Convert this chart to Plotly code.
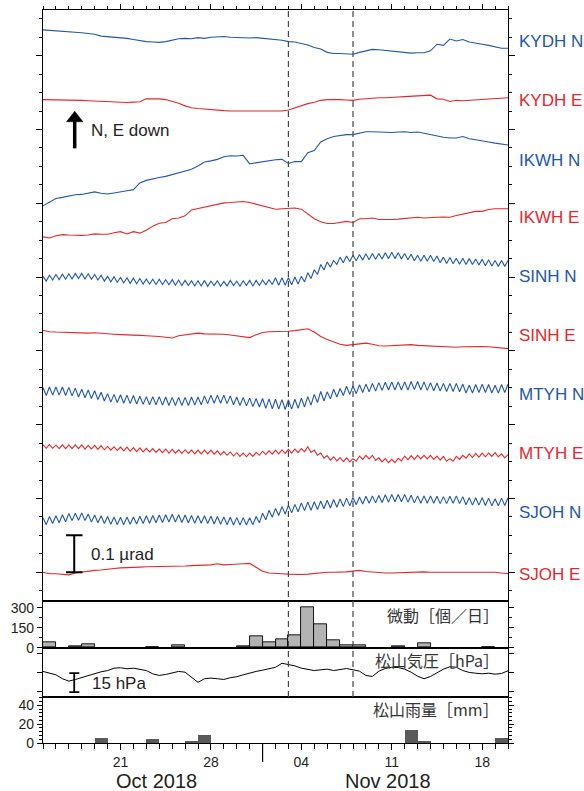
import numpy as np
import pandas as pd
import plotly.graph_objects as go

# ---------------- data ----------------
t_half = pd.date_range('2018-10-15', '2018-11-20', freq='12h')      # 73 samples
t_quarter = pd.date_range('2018-10-15', '2018-11-20', freq='6h')    # 145 samples

station_labels = ["KYDH N", "KYDH E", "IKWH N", "IKWH E", "SINH N",
                  "SINH E", "MTYH N", "MTYH E", "SJOH N", "SJOH E"]

# tilt change, nrad (N / E down)
kydh_n = [0, -1, -2, -3, -5, -5, -8, -10, -12, -17, -18, -19, -21, -23, -26, -30, -32, -33, -34, -32,
          -28, -24, -23, -24, -21, -23, -20, -18, -18, -20, -21, -23, -22, -21, -23, -25, -25, -28, -32, -33,
          -37, -41, -48, -52, -61, -64, -64, -65, -66, -61, -57, -53, -54, -56, -57, -60, -62, -63, -62, -62,
          -57, -39, -42, -25, -30, -26, -33, -35, -39, -42, -46, -50, -50]
kydh_e = [0, 0, -1, -1, -2, -2, -2, -3, -4, -5, -5, -6, -7, -8,
          -7, -6, 2, 3, 2, 0, -4, -10, -17, -22, -24, -26, -28, -29, -30, -31, -31, -31, -31, -31,
          -31, -31, -32, -31, -28, -22, -17, -11, -7, -2, 0, 1, 0, -1, -2, 1, 3, 4, 5, 5,
          5, 7, 8, 9, 10, 11, 12, 2, 1, -5, -2, -3, -2, -1, 1, 2, 3, 4, 5]
ikwh_n = [0, 11, 20, 23, 27, 30, 31, 35, 38, 34, 32, 35, 39, 41, 44, 62, 69, 74, 77, 80,
          85, 88, 93, 99, 108, 119, 122, 126, 133, 136, 135, 137, 114, 117, 119, 122, 125, 126, 115, 120,
          120, 144, 150, 173, 182, 188, 191, 193, 193, 197, 201, 201, 200, 201, 199, 200, 201, 199, 200, 197,
          193, 190, 186, 184, 184, 188, 182, 179, 175, 173, 170, 167, 165]
ikwh_e = [0, -3, 3, 6, 5, 4, 4, 5, 8, 7, 7, 11, 14, 8, 14, 10, 18, 29, 37, 39,
          49, 51, 57, 73, 77, 79, 85, 88, 92, 93, 95, 96, 93, 88, 85, 79, 75, 76, 78, 78,
          75, 63, 49, 41, 36, 36, 39, 42, 39, 49, 49, 51, 47, 46, 47, 48, 50, 52, 53, 51,
          51, 53, 54, 53, 58, 62, 66, 69, 69, 74, 76, 76, 76]
sinh_n = [7, -6, 10, -3, 12, -2, 13, -1, 14, 0, 15, 1, 15, 0, 14, -1, 12, -3, 10, -6,
          7, -8, 6, -9, 4, -11, 3, -12, 2, -13, 1, -14, 0, -14, -1, -15, -1, -15, -2, -16,
          -2, -17, -3, -18, -4, -18, -5, -19, -5, -19, -4, -20, -6, -18, -5, -20, -7, -19, -4, -18,
          -6, -20, -5, -18, -4, -19, -4, -18, -3, -16, -2, -15, 3, -17, 3, -17, 3, -16, 5, -14,
          7, -8, 17, 1, 25, 12, 39, 24, 46, 32, 50, 39, 59, 44, 62, 47, 64, 49, 66, 51,
          68, 52, 69, 53, 69, 54, 71, 55, 72, 55, 71, 54, 69, 52, 67, 49, 64, 48, 64, 48,
          64, 47, 62, 44, 59, 42, 58, 41, 56, 40, 56, 39, 55, 39, 54, 38, 53, 36, 52, 35,
          50, 34, 50, 34, 50]
sinh_e = [0, -4, -5, -6, -6, -6, -8, -8, -7, -9, -10, -11, -12, -12, -13, -14, -15, -15, -17, -19,
          -21, -15, -12, -9, -8, -10, -10, -9, -11, -13, -15, -17, -20, -12, -6, -4, -4, -5, -3, -1,
          1, 4, -5, -17, -25, -31, -38, -41, -39, -37, -35, -38, -42, -43, -42, -41, -40, -39, -41, -42,
          -42, -43, -44, -45, -46, -45, -44, -43, -44, -45, -47, -48, -50]
mtyh_n = [11, -11, 12, -10, 12, -10, 12, -11, 11, -12, 9, -15, 6, -17, 4, -19, 2, -22, -2, -26,
          -6, -29, -8, -30, -9, -32, -10, -33, -11, -34, -13, -35, -14, -36, -14, -36, -14, -37, -15, -38,
          -16, -38, -16, -38, -16, -38, -15, -37, -15, -36, -12, -33, -10, -32, -10, -32, -10, -33, -12, -36,
          -15, -38, -16, -39, -18, -41, -19, -42, -19, -46, -20, -47, -21, -48, -22, -49, -23, -48, -21, -46,
          -18, -42, -14, -37, -8, -30, 0, -26, -1, -20, 6, -15, 8, -11, 14, -8, 15, -6, 18, -3,
          20, -1, 22, 1, 24, 3, 25, 4, 26, 4, 26, 4, 26, 4, 27, 5, 27, 4, 26, 3,
          24, 2, 23, 1, 22, 0, 22, 0, 22, -1, 20, -4, 17, -4, 19, -3, 20, -3, 19, -4,
          17, -4, 19, -3, 20]
mtyh_e = [5, -5, 5, -5, 4, -6, 4, -6, 4, -6, 4, -6, 4, -7, 3, -7, 3, -8, 2, -9,
          0, -10, -1, -11, -2, -12, -2, -13, -3, -14, -4, -15, -5, -15, -6, -16, -7, -17, -7, -18,
          -8, -18, -9, -19, -9, -19, -10, -20, -10, -20, -10, -20, -10, -21, -12, -23, -14, -24, -15, -26,
          -17, -27, -18, -28, -18, -27, -16, -24, -13, -22, -12, -21, -10, -20, -9, -19, -8, -18, -7, -17,
          -6, -14, -1, -16, -10, -24, -18, -32, -25, -37, -28, -39, -30, -41, -31, -42, -33, -40, -26, -35,
          -24, -34, -24, -38, -31, -42, -33, -44, -35, -44, -32, -39, -26, -36, -25, -35, -24, -34, -24, -34,
          -24, -35, -26, -37, -27, -40, -33, -40, -27, -35, -24, -32, -20, -30, -19, -29, -18, -28, -18, -27,
          -17, -28, -20, -31, -22]
sjoh_n = [10, -9, 13, -6, 15, -4, 18, -1, 21, 2, 22, 3, 23, 2, 20, -2, 17, -4, 15, -6,
          13, -8, 12, -9, 11, -9, 12, -8, 12, -7, 14, -6, 15, -5, 16, -4, 17, -3, 18, -2,
          19, -2, 18, -3, 17, -4, 16, -5, 15, -5, 15, -6, 14, -7, 13, -8, 12, -9, 11, -10,
          10, -10, 10, -10, 10, -9, 13, -4, 22, 4, 30, 11, 35, 16, 40, 20, 43, 23, 46, 26,
          50, 29, 52, 30, 53, 32, 55, 34, 57, 36, 59, 38, 61, 40, 63, 42, 65, 45, 66, 47,
          68, 49, 69, 50, 70, 51, 72, 52, 73, 53, 73, 53, 73, 52, 71, 50, 69, 49, 69, 49,
          69, 49, 68, 48, 67, 48, 68, 49, 69, 48, 67, 45, 64, 44, 64, 44, 64, 43, 63, 42,
          61, 42, 63, 43, 64]
sjoh_e = [0, -4, -4, -6, -7, -2, 1, 3, 5, 6, 7, 10, 12, 12, 14, 14, 15, 15, 16, 16,
          16, 17, 17, 18, 18, 19, 20, 23, 20, 21, 21, 23, 24, 14, 3, -2, -2, -4, -5, -6,
          -6, -5, -3, -1, 0, 0, 0, 1, 3, 5, 2, 0, -2, -2, -2, -1, 0, 0, 1, 1,
          0, 0, 0, 1, 1, 0, 0, 0, 0, 0, 0, -2, -4]

# daily tremor counts (微動 個/日)
tremor_days = ['2018-10-15', '2018-10-17', '2018-10-18', '2018-10-23', '2018-10-25', '2018-10-30',
               '2018-10-31', '2018-11-01', '2018-11-02', '2018-11-03', '2018-11-04', '2018-11-05',
               '2018-11-06', '2018-11-07', '2018-11-08', '2018-11-11', '2018-11-13', '2018-11-18']
tremor_counts = [42, 12, 25, 5, 20, 7, 84, 37, 62, 94, 300, 176, 55, 20, 15, 10, 35, 5]

# Matsuyama pressure (hPa), half-day samples
pressure_hpa = [1020.6, 1019.5, 1017.9, 1014.8, 1012.9, 1014.2, 1015.8, 1017.2, 1019.0, 1020.3,
                1021.3, 1023.2, 1023.5, 1022.7, 1023.2, 1022.1, 1021.3, 1018.7, 1017.4, 1018.2,
                1019.5, 1020.6, 1020.0, 1015.6, 1011.9, 1014.8, 1015.3, 1014.8, 1014.2, 1015.6,
                1016.4, 1017.9, 1019.5, 1020.6, 1021.6, 1022.9, 1023.9, 1027.1, 1026.1, 1025.0,
                1023.2, 1022.1, 1021.3, 1021.9, 1022.4, 1021.3, 1022.1, 1022.9, 1021.9, 1020.8,
                1017.4, 1016.6, 1020.8, 1022.9, 1023.9, 1023.7, 1022.4, 1020.0, 1016.8, 1014.8,
                1016.6, 1019.8, 1022.4, 1024.3, 1023.9, 1021.3, 1019.8, 1019.2, 1018.7, 1019.2,
                1018.4, 1019.0, 1021.1]

# Matsuyama daily rainfall (mm)
rain_days = ['2018-10-19', '2018-10-23', '2018-10-26', '2018-10-27', '2018-11-12', '2018-11-13', '2018-11-19']
rain_mm = [5.5, 4.0, 2.0, 8.5, 14.0, 2.0, 5.5]

week_ticks = ['2018-10-21', '2018-10-28', '2018-11-04', '2018-11-11', '2018-11-18']
week_text = ['21', '28', '04', '11', '18']
event_lines = ['2018-11-03', '2018-11-08']

# ---------------- layout helpers ----------------
W, H = 584, 791
ML, MR, MT, MB = 43, 76, 5, 48
PW = W - ML - MR
PH = H - MT - MB


def fx(px):
    return (px - ML) / PW


def fy(py):
    return (H - MB - py) / PH


BLUE = '#2356ad'
RED = '#e8262b'
INK = '#231f20'
FONT = 'Arial, Liberation Sans, sans-serif'
CJK = 'Noto Sans CJK JP, sans-serif'

series = [kydh_n, kydh_e, ikwh_n, ikwh_e, sinh_n, sinh_e, mtyh_n, mtyh_e, sjoh_n, sjoh_e]
grids = [t_half, t_half, t_half, t_half, t_quarter, t_half, t_quarter, t_quarter, t_quarter, t_half]
colors = [BLUE, RED] * 5
offsets = [1.470, 1.281, 0.993, 0.909, 0.795, 0.656, 0.490, 0.341, 0.138, 0.0]       # trace position, urad
label_pos = [1.438, 1.279, 1.115, 0.961, 0.802, 0.641, 0.482, 0.323, 0.162, -0.005]

fig = go.Figure()
for vals, tt, col, off in zip(series, grids, colors, offsets):
    fig.add_trace(go.Scatter(x=tt, y=off + np.array(vals) / 1000.0, mode='lines',
                             line=dict(color=col, width=1.1), xaxis='x', yaxis='y',
                             showlegend=False, hoverinfo='skip'))

fig.add_trace(go.Bar(x=pd.to_datetime(tremor_days) + pd.Timedelta('12h'), y=tremor_counts,
                     width=86400000, marker=dict(color='#b3b3b3', line=dict(color='black', width=0.9)),
                     xaxis='x2', yaxis='y2', showlegend=False))
fig.add_trace(go.Scatter(x=t_half, y=pressure_hpa, mode='lines', line=dict(color='black', width=1),
                         xaxis='x3', yaxis='y3', showlegend=False))
fig.add_trace(go.Bar(x=pd.to_datetime(rain_days) + pd.Timedelta('12h'), y=rain_mm,
                     width=86400000, marker=dict(color='#5a5a5a', line=dict(width=0)),
                     xaxis='x4', yaxis='y4', showlegend=False))

xr = ['2018-10-15', '2018-11-20']
xbase = dict(type='date', range=xr, showgrid=False, zeroline=False, linecolor='black',
             linewidth=1.2, mirror=True, showticklabels=False, ticks='')
daily_minor = dict(tickmode='linear', tick0='2018-10-15', dtick=86400000, ticks='outside',
                   ticklen=3, tickcolor='black', tickwidth=1, showgrid=False)

ybase = dict(showgrid=False, zeroline=False, linecolor='black', linewidth=1.2,
             mirror='allticks', ticks='outside', tickcolor='black', tickwidth=1,
             tickfont=dict(family=FONT, size=14, color=INK))

dom_main = [fy(600.3), 1]
dom_bar = [fy(647), fy(600.3)]
dom_pres = [fy(696.7), fy(647)]
dom_rain = [0, fy(696.7)]

fig.update_layout(
    width=W, height=H, margin=dict(l=ML, r=MR, t=MT, b=MB),
    paper_bgcolor='white', plot_bgcolor='white', bargap=0,
    xaxis=dict(xbase, anchor='y', side='top', ticks='outside', ticklen=5, tickwidth=1,
               tickcolor='black', tickmode='array', tickvals=week_ticks,
               minor=dict(daily_minor, ticklen=2.5)),
    xaxis2=dict(xbase, anchor='y2', matches='x4'),
    xaxis3=dict(xbase, anchor='y3', matches='x4'),
    xaxis4=dict(xbase, anchor='y4', ticks='outside', ticklen=6, tickwidth=1, tickcolor='black',
                tickmode='array', tickvals=week_ticks, ticktext=week_text, showticklabels=True,
                tickfont=dict(family=FONT, size=14, color=INK), minor=dict(daily_minor, ticklen=4.5)),
    yaxis=dict(ybase, domain=dom_main, anchor='x', range=[-0.0786, 1.5238], tick0=0, dtick=0.2,
               ticklen=6, showticklabels=False,
               minor=dict(tick0=0, dtick=0.05, ticks='outside', ticklen=3, tickcolor='black')),
    yaxis2=dict(ybase, domain=dom_bar, anchor='x2', range=[0, 348], tickmode='array',
                tickvals=[0, 150, 300], ticklen=5,
                minor=dict(tickmode='array', tickvals=[75, 225], ticks='outside', ticklen=3, tickcolor='black')),
    yaxis3=dict(ybase, domain=dom_pres, anchor='x3', range=[1000.26, 1039.5], tickmode='array',
                tickvals=[1005, 1020, 1035], ticklen=5, showticklabels=False),
    yaxis4=dict(ybase, domain=dom_rain, anchor='x4', range=[0, 48.7], tickmode='array',
                tickvals=[0, 20, 40], ticklen=5,
                minor=dict(tick0=0, dtick=4, ticks='outside', ticklen=3, tickcolor='black')),
)

shapes = []
# event dashed lines
for d in event_lines:
    shapes.append(dict(type='line', xref='x', yref='paper', x0=d, x1=d, y0=fy(696.7), y1=1,
                       line=dict(color='#444444', width=1.2, dash='6px,4px')))
# month boundary long tick
shapes.append(dict(type='line', xref='x4', yref='paper', x0='2018-11-01', x1='2018-11-01',
                   y0=0, y1=fy(762), line=dict(color='black', width=1.2)))
# N, E down arrow
ax_ = fx(74.7)
shapes.append(dict(type='line', xref='paper', yref='paper', x0=ax_, x1=ax_, y0=fy(144.3), y1=fy(115),
                   line=dict(color='black', width=3.5)))
shapes.append(dict(type='path', xref='paper', yref='paper',
                   path=f'M {fx(66.5)} {fy(117.5)} L {ax_} {fy(107)} L {fx(83)} {fy(117.5)} Z',
                   fillcolor='black', line=dict(color='black', width=0.5)))
# 0.1 urad scale bar (data units)
sb_x = '2018-10-17 10:00'
shapes.append(dict(type='line', xref='x', yref='y', x0=sb_x, x1=sb_x, y0=0, y1=0.1,
                   line=dict(color='black', width=2)))
for yy in (0, 0.1):
    shapes.append(dict(type='line', xref='paper', yref='y', x0=fx(66), x1=fx(82.5), y0=yy, y1=yy,
                       line=dict(color='black', width=2)))
# 15 hPa scale bar
shapes.append(dict(type='line', xref='x', yref='y3', x0=sb_x, x1=sb_x, y0=1004.2, y1=1019.2,
                   line=dict(color='black', width=1.8)))
for yy in (1004.2, 1019.2):
    shapes.append(dict(type='line', xref='paper', yref='y3', x0=fx(69.3), x1=fx(79.3), y0=yy, y1=yy,
                       line=dict(color='black', width=1.8)))
fig.update_layout(shapes=shapes)

ann = []
for lab, ly, col in zip(station_labels, label_pos, colors):
    ann.append(dict(text=lab, xref='paper', yref='y', x=fx(516.5), y=ly, xanchor='left', yanchor='middle',
                    showarrow=False, font=dict(family=FONT, size=17, color=col)))
ann.append(dict(text='N, E down', xref='paper', yref='paper', x=fx(89), y=fy(126), xanchor='left',
                yanchor='middle', showarrow=False, font=dict(family=FONT, size=17, color=INK)))
ann.append(dict(text='0.1 µrad', xref='paper', yref='paper', x=fx(89), y=fy(553), xanchor='left',
                yanchor='middle', showarrow=False, font=dict(family=FONT, size=17, color=INK)))
ann.append(dict(text='15 hPa', xref='paper', yref='paper', x=fx(90), y=fy(683), xanchor='left',
                yanchor='middle', showarrow=False, font=dict(family=FONT, size=17, color=INK)))
for txt, yy in (('微動［個／日］', 614), ('松山気圧［hPa］', 659.5), ('松山雨量［mm］', 709)):
    ann.append(dict(text=txt, xref='paper', yref='paper', x=fx(501), y=fy(yy), xanchor='right',
                    yanchor='middle', showarrow=False, font=dict(family=CJK, size=16, color='#333333')))
for txt, xx in (('Oct 2018', 156), ('Nov 2018', 388)):
    ann.append(dict(text=txt, xref='paper', yref='paper', x=fx(xx), y=fy(781.5), xanchor='center',
                    yanchor='middle', showarrow=False, font=dict(family=FONT, size=20, color=INK)))
fig.update_layout(annotations=ann)

fig.write_html('out.html', config={'displayModeBar': False},
               post_script="document.body.style.margin='0px';document.body.style.padding='0px';"
                           "document.body.style.overflow='hidden';")
